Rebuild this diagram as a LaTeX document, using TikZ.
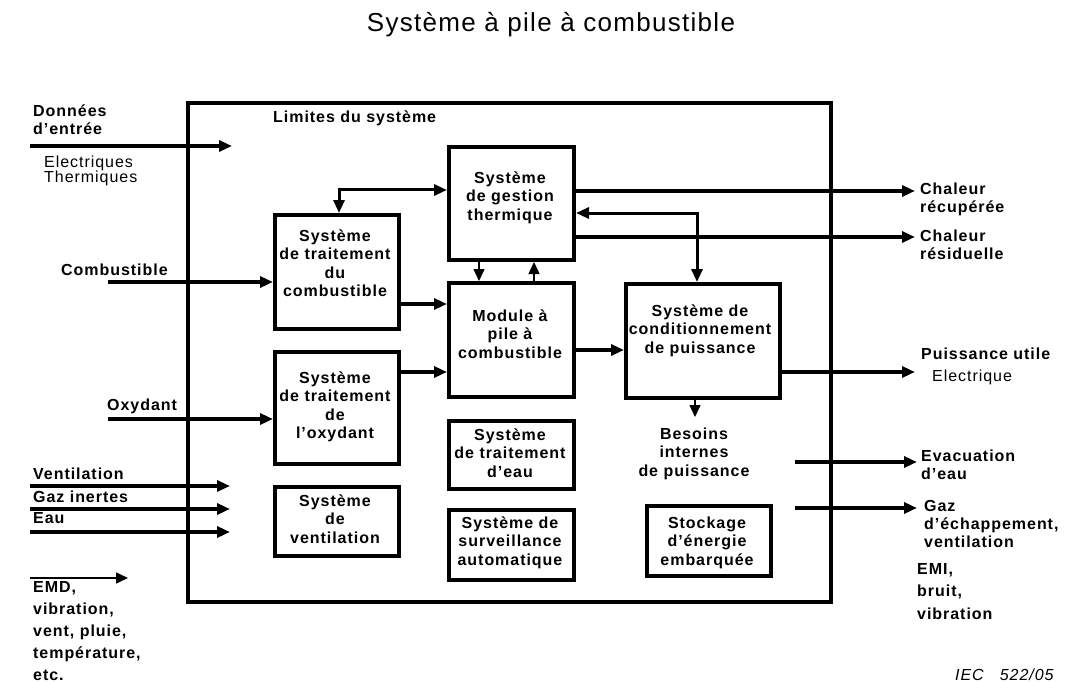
\documentclass[tikz,border=0pt]{standalone}
\usepackage{fontspec}
\setmainfont{Liberation Sans}[LetterSpace=6]
\newfontfamily\titlefont{Liberation Sans}[LetterSpace=5]
\usetikzlibrary{arrows.meta,calc}
\newcommand\bxfont{\fontsize{16}{18.5}\selectfont\bfseries}
\newcommand\tp{\rule{0pt}{13pt}}
\begin{document}
\begin{tikzpicture}[x=1pt,y=-1pt,
  box/.style={draw, line width=4pt, inner sep=0pt, anchor=north west},
  btxt/.style={inner sep=0pt, anchor=north, align=center, font=\bxfont},
  ltxt/.style={inner sep=0pt, anchor=north west, align=left, font=\bxfont},
  sl/.style={inner sep=0pt, anchor=base west, font=\bxfont},
  bigtri/.tip={Triangle[length=13pt,width=11pt]},
  arr/.style={line width=3.5pt, -bigtri},
  thinarr/.style={line width=1.5pt, -{Triangle[length=12pt,width=11pt]}},
  dbl/.style={line width=3pt, bigtri-bigtri},
]
\useasboundingbox (0,0) rectangle (1066,682);

% title
\node[inner sep=0pt, anchor=base, font=\titlefont\fontsize{26}{30}\selectfont] (title) at (551,32) {Système à pile à combustible};

% boxes
\node[box, minimum width=643pt, minimum height=499pt] (outer) at (186,101) {};
\node[box, minimum width=125pt, minimum height=113pt] (therm) at (447,145) {};
\node[box, minimum width=124pt, minimum height=114pt] (fuel) at (273,213) {};
\node[box, minimum width=125pt, minimum height=114pt] (mod) at (447,281) {};
\node[box, minimum width=124pt, minimum height=112pt] (oxy) at (273,350) {};
\node[box, minimum width=125pt, minimum height=68pt] (water) at (447,419) {};
\node[box, minimum width=125pt, minimum height=70pt] (surv) at (447,508) {};
\node[box, minimum width=124pt, minimum height=69pt] (vent) at (273,485) {};
\node[box, minimum width=154pt, minimum height=114pt] (cond) at (624,282) {};
\node[box, minimum width=124pt, minimum height=70pt] (stock) at (645,504) {};

% box texts (top = first baseline - 13)
\node[btxt] (thermT) at (510,170) {\tp Système\\de gestion\\thermique};
\node[btxt] (fuelT) at (335,228) {\tp Système\\de traitement\\du\\combustible};
\node[btxt] (modT) at (510,308) {\tp Module à\\pile à\\combustible};
\node[btxt] (oxyT) at (335,370) {\tp Système\\de traitement\\de\\l’oxydant};
\node[btxt] (waterT) at (510,427) {\tp Système\\de traitement\\d’eau};
\node[btxt] (survT) at (510,515) {\tp Système de\\surveillance\\automatique};
\node[btxt] (ventT) at (335,493) {\tp Système\\de\\ventilation};
\node[btxt] (condT) at (700,303) {\tp Système de\\conditionnement\\de puissance};
\node[btxt] (stockT) at (707,515) {\tp Stockage\\d’énergie\\embarquée};
\node[btxt] (besoins) at (694,426) {\tp Besoins\\internes\\de puissance};

% labels
\node[sl] (limites) at (273,123) {Limites du système};
\node[ltxt] (donnees) at (33,103) {\tp Données\\d’entrée};
\node[ltxt, font=\fontsize{16}{15.7}\selectfont] (elec) at (44,154) {\tp Electriques\\Thermiques};
\node[sl] (combL) at (61,275) {Combustible};
\node[sl] (oxyL) at (107,410) {Oxydant};
\node[sl] (ventL) at (33,479) {Ventilation};
\node[sl] (gazL) at (33,502) {Gaz inertes};
\node[sl] (eauL) at (33,523) {Eau};
\node[ltxt, font=\fontsize{16}{22.1}\selectfont\bfseries] (emd) at (33,579) {\tp EMD,\\vibration,\\vent, pluie,\\température,\\etc.};
\node[ltxt] (crec) at (920,181) {\tp Chaleur\\récupérée};
\node[ltxt] (cres) at (920,228) {\tp Chaleur\\résiduelle};
\node[sl] (puis) at (921,359) {Puissance utile};
\node[inner sep=0pt, anchor=base west, font=\fontsize{16}{18}\selectfont] (elecout) at (932,381) {Electrique};
\node[ltxt, font=\fontsize{16}{18}\selectfont\bfseries] (evac) at (921,448) {\tp Evacuation\\d’eau};
\node[ltxt, font=\fontsize{16}{18}\selectfont\bfseries] (gazech) at (924,498) {\tp Gaz\\d’échappement,\\ventilation};
\node[ltxt, font=\fontsize{16}{22.5}\selectfont\bfseries] (emi) at (917,561) {\tp EMI,\\bruit,\\vibration};
\node[inner sep=0pt, anchor=base west, font=\fontsize{16}{18}\selectfont\itshape] (iec) at (955,680) {IEC\quad 522/05};

% free ends
\coordinate (donA) at (30,146);   \coordinate (donB) at (232,146);
\coordinate (combA) at (108,282);
\coordinate (oxyA) at (108,419);
\coordinate (ventA) at (30,486);  \coordinate (ventB) at (230,486);
\coordinate (gazA) at (30,509);   \coordinate (gazB) at (230,509);
\coordinate (eauA) at (30,532);   \coordinate (eauB) at (230,532);
\coordinate (emdA) at (30,578);   \coordinate (emdB) at (128,578);
\coordinate (crecB) at (915,191);
\coordinate (cresB) at (915,237);
\coordinate (puisB) at (915,372);
\coordinate (besB) at (695,417);
\coordinate (evacA) at (795,462); \coordinate (evacB) at (917,462);
\coordinate (gazeA) at (795,508); \coordinate (gazeB) at (917,508);

% connectors
\draw[arr] (donA) -- (donB);
\draw[arr] (combA) -- (combA -| fuel.west);
\draw[arr] (oxyA) -- (oxyA -| oxy.west);
\draw[arr] (ventA) -- (ventB);
\draw[arr] (gazA) -- (gazB);
\draw[arr] (eauA) -- (eauB);
\draw[thinarr] (emdA) -- (emdB);
\draw[dbl] (fuel.north -| 339,0) |- (therm.west |- 0,190);
\draw[arr] (fuel.east |- 0,304) -- (mod.west |- 0,304);
\draw[arr] (oxy.east |- 0,372) -- (mod.west |- 0,372);
\draw[thinarr] (therm.south -| 479,0) -- (mod.north -| 479,0);
\draw[thinarr] (mod.north -| 534,0) -- (therm.south -| 534,0);
\draw[arr] (mod.east |- 0,350) -- (cond.west |- 0,350);
\draw[arr] (therm.east |- crecB) -- (crecB);
\draw[arr] (therm.east |- cresB) -- (cresB);
\draw[dbl] (therm.east |- 0,213) -| (cond.north -| 697,0);
\draw[arr] (cond.east |- puisB) -- (puisB);
\draw[thinarr] (cond.south -| besB) -- (besB);
\draw[arr] (evacA) -- (evacB);
\draw[arr] (gazeA) -- (gazeB);
\end{tikzpicture}
\end{document}
